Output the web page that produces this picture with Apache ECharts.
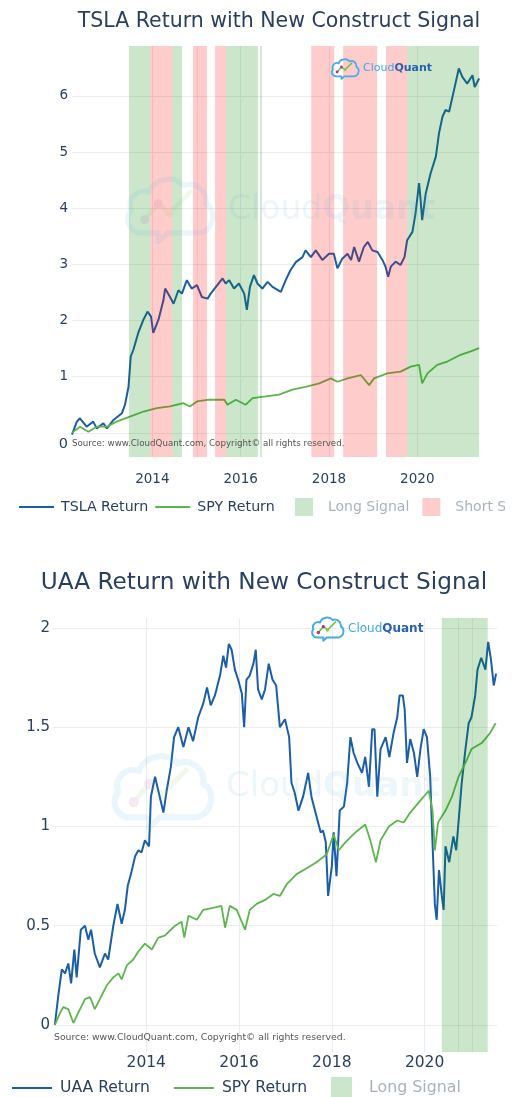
<!DOCTYPE html>
<html>
<head>
<meta charset="utf-8">
<script src="https://cdn.jsdelivr.net/npm/echarts@6/dist/echarts.min.js"></script>
<style>
html,body{margin:0;padding:0;background:#fff;}
#chart{width:528px;height:1097px;}
</style>
</head>
<body>
<div id="chart"></div>
<script>
// ---- data (x = decimal year, y = cumulative return) ----
const yearTicks = [2014, 2016, 2018, 2020];
const tslaYTicks = [0, 1, 2, 3, 4, 5, 6];
const uaaYTicks = [0, 0.5, 1, 1.5, 2];

const tslaReturn = [[2012.18,-0.03],[2012.29,0.2],[2012.36,0.26],[2012.40,0.23],[2012.51,0.11],[2012.66,0.2],[2012.74,0.08],[2012.89,0.17],[2012.97,0.08],[2013.12,0.23],[2013.31,0.35],[2013.38,0.5],[2013.46,0.82],[2013.51,1.36],[2013.57,1.48],[2013.68,1.78],[2013.80,2.02],[2013.89,2.16],[2013.97,2.07],[2014.02,1.78],[2014.14,2.02],[2014.25,2.36],[2014.29,2.57],[2014.40,2.42],[2014.48,2.3],[2014.59,2.54],[2014.67,2.48],[2014.78,2.72],[2014.89,2.57],[2015.01,2.63],[2015.12,2.42],[2015.25,2.39],[2015.32,2.48],[2015.44,2.6],[2015.59,2.75],[2015.66,2.66],[2015.74,2.72],[2015.85,2.57],[2015.96,2.66],[2016.08,2.48],[2016.14,2.19],[2016.21,2.6],[2016.30,2.81],[2016.38,2.66],[2016.49,2.57],[2016.61,2.69],[2016.72,2.6],[2016.91,2.51],[2017.02,2.72],[2017.13,2.9],[2017.25,3.04],[2017.40,3.13],[2017.47,3.25],[2017.59,3.13],[2017.70,3.25],[2017.85,3.08],[2018.00,3.19],[2018.11,3.19],[2018.19,2.93],[2018.30,3.1],[2018.42,3.19],[2018.50,3.08],[2018.57,3.31],[2018.68,3.05],[2018.79,3.31],[2018.88,3.4],[2018.98,3.25],[2019.10,3.22],[2019.21,3.08],[2019.28,2.96],[2019.34,2.78],[2019.40,2.96],[2019.51,3.05],[2019.62,2.99],[2019.71,3.13],[2019.77,3.43],[2019.89,3.58],[2019.96,3.91],[2020.04,4.45],[2020.07,4.2],[2020.11,3.79],[2020.19,4.26],[2020.30,4.62],[2020.42,4.92],[2020.49,5.33],[2020.57,5.63],[2020.64,5.75],[2020.72,5.72],[2020.83,6.1],[2020.94,6.49],[2021.02,6.34],[2021.13,6.22],[2021.25,6.37],[2021.30,6.16],[2021.40,6.31]];

const spyReturnTop = [[2012.18,0],[2012.36,0.11],[2012.55,0.02],[2012.74,0.11],[2012.97,0.11],[2013.19,0.2],[2013.49,0.29],[2013.80,0.38],[2014.10,0.44],[2014.40,0.47],[2014.70,0.53],[2014.85,0.47],[2015.01,0.56],[2015.29,0.59],[2015.63,0.59],[2015.70,0.5],[2015.89,0.59],[2016.11,0.5],[2016.27,0.62],[2016.57,0.65],[2016.87,0.68],[2017.17,0.77],[2017.47,0.82],[2017.78,0.88],[2018.04,0.97],[2018.19,0.91],[2018.42,0.97],[2018.72,1.03],[2018.91,0.85],[2019.02,0.97],[2019.32,1.06],[2019.62,1.09],[2019.85,1.18],[2020.04,1.21],[2020.11,0.88],[2020.23,1.06],[2020.45,1.21],[2020.68,1.27],[2020.98,1.39],[2021.21,1.45],[2021.40,1.51]];

const tslaLongSignal = [[2013.47,2013.95],[2014.45,2014.67],[2015.67,2016.39],[2016.44,2016.48],[2019.77,2021.40]];
const tslaShortSignal = [[2013.95,2014.45],[2014.92,2015.02],[2015.01,2015.24],[2015.42,2015.67],[2017.60,2018.12],[2018.32,2019.09],[2019.29,2019.77]];

const uaaReturn = [[2012.03,0],[2012.10,0.14],[2012.18,0.28],[2012.25,0.26],[2012.32,0.31],[2012.38,0.21],[2012.45,0.38],[2012.50,0.24],[2012.59,0.48],[2012.68,0.50],[2012.75,0.43],[2012.81,0.48],[2012.89,0.36],[2013.00,0.29],[2013.11,0.36],[2013.18,0.33],[2013.29,0.50],[2013.38,0.61],[2013.47,0.51],[2013.54,0.58],[2013.60,0.70],[2013.67,0.76],[2013.76,0.85],[2013.83,0.88],[2013.90,0.87],[2013.97,0.93],[2014.06,0.90],[2014.10,1.15],[2014.19,1.25],[2014.26,1.18],[2014.37,1.07],[2014.44,1.18],[2014.53,1.30],[2014.60,1.45],[2014.69,1.50],[2014.80,1.40],[2014.91,1.50],[2015.01,1.43],[2015.12,1.55],[2015.23,1.62],[2015.31,1.70],[2015.39,1.61],[2015.48,1.66],[2015.59,1.76],[2015.66,1.86],[2015.72,1.80],[2015.78,1.92],[2015.84,1.89],[2015.91,1.79],[2015.98,1.74],[2016.06,1.67],[2016.11,1.50],[2016.16,1.74],[2016.23,1.76],[2016.31,1.82],[2016.36,1.89],[2016.41,1.69],[2016.49,1.64],[2016.56,1.69],[2016.64,1.82],[2016.72,1.74],[2016.80,1.71],[2016.88,1.50],[2016.99,1.54],[2017.08,1.45],[2017.13,1.22],[2017.20,1.17],[2017.28,1.08],[2017.38,1.15],[2017.49,1.27],[2017.56,1.15],[2017.67,1.05],[2017.76,0.97],[2017.81,0.98],[2017.87,0.92],[2017.92,0.65],[2018.00,0.80],[2018.04,0.97],[2018.10,0.75],[2018.17,1.08],[2018.26,1.10],[2018.33,1.22],[2018.40,1.45],[2018.47,1.37],[2018.55,1.32],[2018.65,1.27],[2018.72,1.35],[2018.80,1.20],[2018.87,1.49],[2018.92,1.49],[2018.98,1.15],[2019.05,1.39],[2019.16,1.45],[2019.24,1.35],[2019.33,1.47],[2019.41,1.55],[2019.46,1.66],[2019.53,1.66],[2019.57,1.59],[2019.62,1.32],[2019.69,1.44],[2019.77,1.37],[2019.84,1.25],[2019.91,1.39],[2019.98,1.49],[2020.05,1.45],[2020.12,1.25],[2020.17,0.92],[2020.22,0.61],[2020.26,0.53],[2020.31,0.78],[2020.37,0.65],[2020.41,0.58],[2020.45,0.90],[2020.53,0.82],[2020.62,0.95],[2020.68,0.88],[2020.73,1.02],[2020.80,1.22],[2020.88,1.39],[2020.95,1.52],[2021.01,1.55],[2021.09,1.66],[2021.14,1.79],[2021.22,1.85],[2021.31,1.79],[2021.37,1.93],[2021.43,1.84],[2021.49,1.71],[2021.54,1.77]];

const spyReturnBottom = [[2012.03,0],[2012.14,0.06],[2012.21,0.09],[2012.32,0.08],[2012.43,0.01],[2012.53,0.06],[2012.68,0.13],[2012.79,0.14],[2012.89,0.08],[2013.00,0.13],[2013.15,0.20],[2013.29,0.24],[2013.40,0.26],[2013.47,0.23],[2013.58,0.30],[2013.72,0.33],[2013.83,0.37],[2013.97,0.41],[2014.12,0.38],[2014.26,0.44],[2014.40,0.45],[2014.62,0.50],[2014.76,0.52],[2014.82,0.44],[2014.91,0.55],[2015.09,0.53],[2015.23,0.58],[2015.44,0.59],[2015.62,0.60],[2015.70,0.49],[2015.80,0.60],[2015.95,0.58],[2016.13,0.48],[2016.23,0.58],[2016.38,0.61],[2016.56,0.63],[2016.74,0.66],[2016.88,0.65],[2017.03,0.71],[2017.24,0.76],[2017.46,0.79],[2017.67,0.82],[2017.89,0.86],[2018.04,0.96],[2018.15,0.88],[2018.29,0.92],[2018.51,0.97],[2018.72,1.01],[2018.83,0.93],[2018.95,0.82],[2019.05,0.93],[2019.23,1.00],[2019.41,1.03],[2019.55,1.02],[2019.69,1.07],[2019.87,1.12],[2020.09,1.18],[2020.17,1.08],[2020.22,0.88],[2020.29,1.02],[2020.45,1.08],[2020.59,1.15],[2020.73,1.25],[2020.88,1.32],[2021.01,1.39],[2021.23,1.42],[2021.41,1.47],[2021.53,1.52]];

const uaaLongSignal = [[2020.37,2020.73],[2020.72,2021.03],[2021.02,2021.36]];

// ---- styles ----
const FONT = '"DejaVu Sans", "Open Sans", sans-serif';
const TXT = '#2a3f5f';
const BLUE = '#1b5ea7';
const GREEN = '#5cb64c';
const LONG_FILL = 'rgba(0,128,0,0.2)';
const SHORT_FILL = 'rgba(255,0,0,0.2)';
const GRID_C = '#ebedf0';

function areas(list) {
  return list.map(p => [{ xAxis: p[0] }, { xAxis: p[1] }]);
}

const chart = echarts.init(document.getElementById('chart'), null, { renderer: 'canvas' });

const cloudSvg = 'data:image/svg+xml;charset=utf-8,' + encodeURIComponent(
  '<svg xmlns="http://www.w3.org/2000/svg" width="42" height="32" viewBox="0 0 42 32">' +
  '<path d="M9,27 C3,27 1,21 4,17 C2,11 8,7 12,9 C14,3 23,1 27,6 C32,4 38,8 37,14 C42,16 41,26 34,27 L20,27 L16,31 L16,27 Z" fill="none" stroke="#45ade3" stroke-width="2.4" stroke-linejoin="round"/>' +
  '<path d="M10,21 L16,14 L21,18 L31,8" fill="none" stroke="#6cc04a" stroke-width="2"/>' +
  '<circle cx="10" cy="21" r="2" fill="#a4388c"/><circle cx="16" cy="14" r="2" fill="#a4388c"/><circle cx="21" cy="18" r="2" fill="#8cc63f"/>' +
  '</svg>');

function logo(x, y, w, op, fontSize, textX, textY, c1, c2) {
  return [
    { type: 'image', x: x, y: y, silent: true, z: 50,
      style: { image: cloudSvg, width: w, height: w * 32 / 42, opacity: op } },
    { type: 'text', x: textX, y: textY, silent: true, z: 50,
      style: { text: '{a|Cloud}{b|Quant}', verticalAlign: 'middle', opacity: op,
        rich: { a: { fontSize: fontSize, fontFamily: FONT, fontWeight: 'normal', fill: c1 },
                b: { fontSize: fontSize, fontFamily: FONT, fontWeight: 'bold', fill: c2 } } } }
  ];
}

const option = {
  animation: false,
  backgroundColor: '#ffffff',
  legend: [
    { data: ['TSLA Return', 'SPY Return'], left: 19, top: 500, padding: 0, width: 280,
      itemWidth: 35, itemHeight: 14, itemGap: 7, icon: 'path://M0,6 L35,6 L35,8 L0,8 Z',
      textStyle: { fontFamily: FONT, fontSize: 14.2, color: TXT, padding: [0, 0, 0, 2] } },
    { data: ['Long Signal', 'Short Signal'], left: 295, top: 498, padding: 0, width: 400,
      itemWidth: 18, itemHeight: 18, itemGap: 13, icon: 'rect',
      textStyle: { fontFamily: FONT, fontSize: 14, color: '#aab2bf', padding: [0, 0, 0, 10] } },
    { data: ['UAA Return', 'SPY Return '], left: 12, top: 1080, padding: 0, width: 320,
      itemWidth: 40, itemHeight: 16, itemGap: 24, icon: 'path://M0,7 L40,7 L40,9 L0,9 Z',
      textStyle: { fontFamily: FONT, fontSize: 15.6, color: TXT, padding: [0, 0, 0, 3] } },
    { data: ['Long Signal '], left: 331, top: 1077, padding: 0, width: 200,
      itemWidth: 21, itemHeight: 21, icon: 'rect',
      textStyle: { fontFamily: FONT, fontSize: 15.8, color: '#aab2bf', padding: [0, 0, 0, 12] } }
  ],
  grid: [
    { left: 72, top: 46, width: 408, height: 411 },
    { left: 53, top: 618, width: 444, height: 434 }
  ],
  xAxis: [
    { type: 'value', gridIndex: 0, min: 2012.18, max: 2021.42,
      axisLine: { show: false }, axisTick: { show: false, customValues: yearTicks },
      splitLine: { show: true, lineStyle: { color: GRID_C, width: 1 } },
      axisLabel: { customValues: yearTicks, formatter: v => String(Math.round(v)), margin: 15,
        fontFamily: FONT, fontSize: 13.5, color: TXT } },
    { type: 'value', gridIndex: 1, min: 2011.99, max: 2021.56,
      axisLine: { show: false }, axisTick: { show: false, customValues: yearTicks },
      splitLine: { show: true, lineStyle: { color: GRID_C, width: 1 } },
      axisLabel: { customValues: yearTicks, formatter: v => String(Math.round(v)), margin: 3,
        fontFamily: FONT, fontSize: 15.5, color: TXT } }
  ],
  yAxis: [
    { type: 'value', gridIndex: 0, min: -0.43, max: 6.89,
      axisLine: { show: false }, axisTick: { show: false, customValues: tslaYTicks },
      splitLine: { show: true, lineStyle: { color: GRID_C, width: 1 } },
      axisLabel: { customValues: tslaYTicks, margin: 4, fontFamily: FONT, fontSize: 13.5, color: TXT,
        formatter: v => (v === 0 ? '{z|0}' : String(v)),
        rich: { z: { fontFamily: FONT, fontSize: 14.5, color: TXT, padding: [22, 0, 0, 0] } } } },
    { type: 'value', gridIndex: 1, min: -0.136, max: 2.05,
      axisLine: { show: false }, axisTick: { show: false, customValues: uaaYTicks },
      splitLine: { show: true, lineStyle: { color: GRID_C, width: 1 } },
      axisLabel: { customValues: uaaYTicks, margin: 3, fontFamily: FONT, fontSize: 15, color: TXT } }
  ],
  series: [
    { name: 'TSLA Return', type: 'line', xAxisIndex: 0, yAxisIndex: 0, data: tslaReturn,
      showSymbol: false, symbol: 'none', z: 2, color: BLUE, lineStyle: { width: 2, color: BLUE } },
    { name: 'SPY Return', type: 'line', xAxisIndex: 0, yAxisIndex: 0, data: spyReturnTop,
      showSymbol: false, symbol: 'none', z: 2, color: GREEN, lineStyle: { width: 1.8, color: GREEN } },
    { name: 'Long Signal', type: 'bar', xAxisIndex: 0, yAxisIndex: 0, data: [], z: 5,
      itemStyle: { color: '#cce6cc' },
      markArea: { silent: true, z: 5, itemStyle: { color: LONG_FILL }, data: areas(tslaLongSignal) } },
    { name: 'Short Signal', type: 'bar', xAxisIndex: 0, yAxisIndex: 0, data: [], z: 5,
      itemStyle: { color: '#ffcccc' },
      markArea: { silent: true, z: 5, itemStyle: { color: SHORT_FILL }, data: areas(tslaShortSignal) } },
    { name: 'UAA Return', type: 'line', xAxisIndex: 1, yAxisIndex: 1, data: uaaReturn,
      showSymbol: false, symbol: 'none', z: 2, color: BLUE, lineStyle: { width: 2, color: BLUE } },
    { name: 'SPY Return ', type: 'line', xAxisIndex: 1, yAxisIndex: 1, data: spyReturnBottom,
      showSymbol: false, symbol: 'none', z: 2, color: GREEN, lineStyle: { width: 1.8, color: GREEN } },
    { name: 'Long Signal ', type: 'bar', xAxisIndex: 1, yAxisIndex: 1, data: [], z: 5,
      itemStyle: { color: '#cce6cc' },
      markArea: { silent: true, z: 5, itemStyle: { color: LONG_FILL }, data: areas(uaaLongSignal) } }
  ],
  graphic: [].concat(
    [
      { type: 'text', x: 279, y: 22, silent: true,
        style: { text: 'TSLA Return with New Construct Signal', fontFamily: FONT, fontSize: 20.5,
          fill: TXT, align: 'center', verticalAlign: 'middle' } },
      { type: 'text', x: 264, y: 583, silent: true,
        style: { text: 'UAA Return with New Construct Signal', fontFamily: FONT, fontSize: 23.2,
          fill: TXT, align: 'center', verticalAlign: 'middle' } }
    ],
    logo(330, 57, 30, 1, 11, 363, 68, '#3ea8e2', '#2a62ad'),
    logo(310, 615, 35, 1, 12, 348, 629, '#3ea8e2', '#2a62ad'),
    logo(122, 172, 95, 0.1, 33, 228, 210, '#4aa8dc', '#4aa8dc'),
    logo(108, 748, 108, 0.1, 34, 226, 787, '#4aa8dc', '#4aa8dc'),
    [
      { type: 'text', x: 72, y: 444, silent: true, z: 50,
        style: { text: 'Source: www.CloudQuant.com, Copyright\u00a9 all rights reserved.', fontSize: 8.7,
          fontFamily: FONT, fill: '#555', verticalAlign: 'middle' } },
      { type: 'text', x: 54, y: 1038, silent: true, z: 50,
        style: { text: 'Source: www.CloudQuant.com, Copyright\u00a9 all rights reserved.', fontSize: 9.3,
          fontFamily: FONT, fill: '#555', verticalAlign: 'middle' } },
      { type: 'rect', shape: { x: 505, y: 490, width: 23, height: 35 }, style: { fill: '#ffffff' }, z: 100, silent: true }
    ]
  )
};

chart.setOption(option);
</script>
</body>
</html>
